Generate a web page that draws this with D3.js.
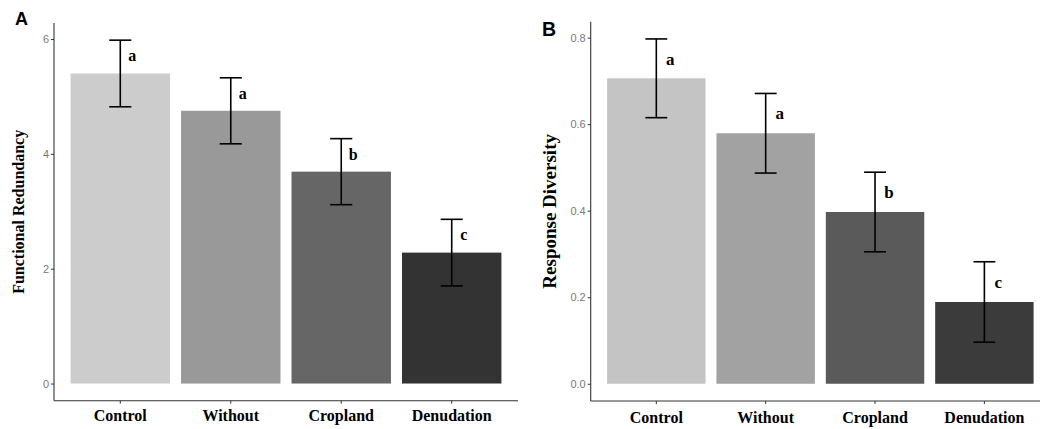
<!DOCTYPE html>
<html lang="en">
<head>
    <meta charset="UTF-8">
    <script src="https://d3js.org/d3.v7.min.js"></script>
    <style>
        body { margin: 0; background: white; }
        .tick text { font-family: "Liberation Sans", Arial, sans-serif; font-size: 11px; fill: #7a7a7a; }
        .tick line { stroke: #333; }
        .domain { stroke: #333; stroke-width: 1.1px; }
        .xlab { font-family: "Liberation Serif", "Times New Roman", serif; font-weight: bold; font-size: 16px; fill: #000; }
        .sig { font-family: "Liberation Serif", "Times New Roman", serif; font-weight: bold; fill: #000; }
        .panel-tag { font-family: "Liberation Sans", Arial, sans-serif; font-weight: bold; fill: #000; }
    </style>
</head>
<body>
    <div id="chart"></div>

    <script>
        const categories = ["Control", "Without", "Cropland", "Denudation"];

        // panel A: functional redundancy
        const redundancyMean = [5.40, 4.75, 3.69, 2.28];
        const redundancySe = [0.58, 0.575, 0.575, 0.58];
        const redundancyLetters = ["a", "a", "b", "c"];
        const redundancyTicks = [0, 2, 4, 6];
        const redundancyFill = ["#cccccc", "#999999", "#666666", "#333333"];

        // panel B: response diversity
        const diversityMean = [0.706, 0.579, 0.397, 0.189];
        const diversitySe = [0.091, 0.092, 0.092, 0.093];
        const diversityLetters = ["a", "a", "b", "c"];
        const diversityTicks = [0, 0.2, 0.4, 0.6, 0.8];
        const diversityFill = ["#c4c4c4", "#a2a2a2", "#5a5a5a", "#3b3b3b"];

        const width = 1040;
        const height = 429;

        const svg = d3.select("#chart")
            .append("svg")
            .attr("width", width)
            .attr("height", height);

        const panels = [
            {
                tag: "A", tagX: 15, tagY: 25, tagSize: 18,
                title: "Functional Redundancy", titleX: 24, titleSize: 16,
                left: 54, right: 518, top: 23, bottom: 400.7,
                mean: redundancyMean, se: redundancySe, letters: redundancyLetters,
                ticks: redundancyTicks, fill: redundancyFill, fmt: d3.format("d"),
                letterSize: 16, letterDx: 12, letterDy: 21, labelY: 421
            },
            {
                tag: "B", tagX: 542, tagY: 36, tagSize: 19.5,
                title: "Response Diversity", titleX: 556, titleSize: 19,
                left: 590.7, right: 1050, top: 21.7, bottom: 401,
                mean: diversityMean, se: diversitySe, letters: diversityLetters,
                ticks: diversityTicks, fill: diversityFill, fmt: d3.format(".1f"),
                letterSize: 17, letterDx: 14, letterDy: 26, labelY: 423
            }
        ];

        panels.forEach(p => {
            const g = svg.append("g");
            const data = categories.map((c, i) => ({
                name: c, mean: p.mean[i], se: p.se[i], letter: p.letters[i], fill: p.fill[i]
            }));

            // ggplot style expansion: 5% continuous, 0.6 discrete
            const maxHi = d3.max(data, d => d.mean + d.se);
            const y = d3.scaleLinear()
                .domain([-0.05 * maxHi, maxHi * 1.05])
                .range([p.bottom, p.top]);

            const step = (p.right - p.left) / (categories.length + 0.2);
            const x = d3.scaleBand()
                .domain(categories)
                .range([p.left + 0.1 * step, p.right - 0.1 * step])
                .paddingInner(0.1)
                .paddingOuter(0.05);

            g.append("g")
                .selectAll("rect")
                .data(data)
                .enter().append("rect")
                .attr("x", d => x(d.name))
                .attr("width", x.bandwidth())
                .attr("y", d => y(d.mean))
                .attr("height", d => y(0) - y(d.mean))
                .attr("fill", d => d.fill);

            const cx = d => x(d.name) + x.bandwidth() / 2;
            const capHalf = step * 0.1;

            const err = g.append("g")
                .attr("stroke", "#000")
                .attr("stroke-width", 1.6)
                .selectAll("g")
                .data(data)
                .enter().append("g");

            err.append("line")
                .attr("x1", cx).attr("x2", cx)
                .attr("y1", d => y(d.mean - d.se))
                .attr("y2", d => y(d.mean + d.se));
            err.append("line")
                .attr("x1", d => cx(d) - capHalf).attr("x2", d => cx(d) + capHalf)
                .attr("y1", d => y(d.mean + d.se)).attr("y2", d => y(d.mean + d.se));
            err.append("line")
                .attr("x1", d => cx(d) - capHalf).attr("x2", d => cx(d) + capHalf)
                .attr("y1", d => y(d.mean - d.se)).attr("y2", d => y(d.mean - d.se));

            g.append("g")
                .selectAll("text")
                .data(data)
                .enter().append("text")
                .attr("class", "sig")
                .attr("x", d => cx(d) + p.letterDx)
                .attr("y", d => y(d.mean + d.se) + p.letterDy)
                .attr("text-anchor", "middle")
                .style("font-size", p.letterSize + "px")
                .text(d => d.letter);

            // axes
            const yAxis = g.append("g")
                .attr("transform", `translate(${p.left},0)`)
                .call(d3.axisLeft(y).tickValues(p.ticks).tickFormat(p.fmt).tickSize(3).tickPadding(2).tickSizeOuter(0));
            yAxis.select(".domain").attr("d", `M0,${p.top}V${p.bottom}`);

            const xAxis = g.append("g")
                .attr("transform", `translate(0,${p.bottom})`)
                .call(d3.axisBottom(x).tickSize(3).tickSizeOuter(0).tickFormat(""));
            xAxis.select(".domain").attr("d", `M${p.left},0H${p.right}`);

            g.append("g")
                .selectAll("text")
                .data(categories)
                .enter().append("text")
                .attr("class", "xlab")
                .attr("x", d => x(d) + x.bandwidth() / 2)
                .attr("y", p.labelY)
                .attr("text-anchor", "middle")
                .text(d => d);

            g.append("text")
                .attr("class", "xlab")
                .attr("transform", `translate(${p.titleX},${(p.top + p.bottom) / 2}) rotate(-90)`)
                .attr("text-anchor", "middle")
                .style("font-size", p.titleSize + "px")
                .text(p.title);

            g.append("text")
                .attr("class", "panel-tag")
                .attr("x", p.tagX)
                .attr("y", p.tagY)
                .style("font-size", p.tagSize + "px")
                .text(p.tag);
        });
    </script>
</body>
</html>
